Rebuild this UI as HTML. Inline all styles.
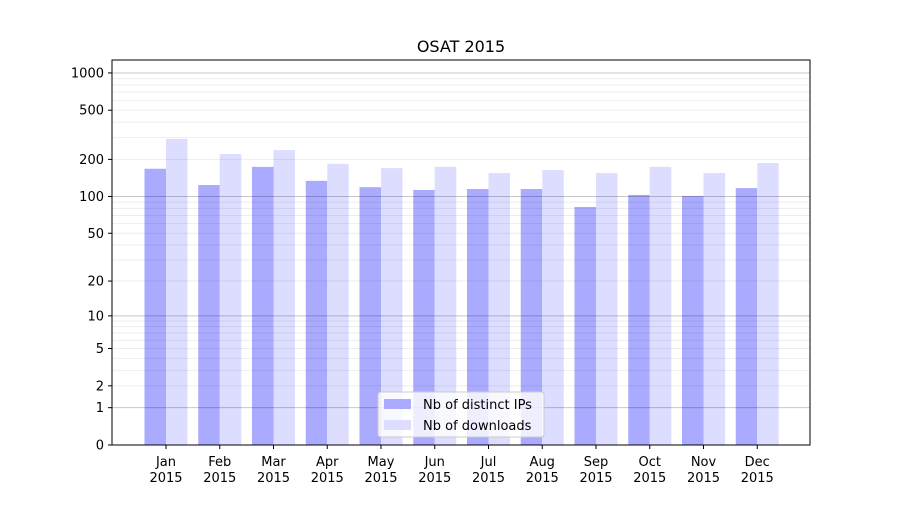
<!DOCTYPE html>
<html><head><meta charset="utf-8"><style>body{margin:0;background:#fff}svg{font-family:"DejaVu Sans","Liberation Sans",sans-serif}</style></head>
<body>
<svg id="chart" width="900" height="500"></svg>
<script>
const months=["Jan","Feb","Mar","Apr","May","Jun","Jul","Aug","Sep","Oct","Nov","Dec"];
const ips=[168,124,174,134,119,113,115,115,82,103,101,117];
const downloads=[293,221,238,184,170,174,155,164,155,174,155,187];
const yTicks=[0,1,2,5,10,20,50,100,200,500,1000];
const majorGrid=[1,10,100,1000];
const minorGrid=[2,3,4,5,6,7,8,9,20,30,40,50,60,70,80,90,200,300,400,500,600,700,800,900];
const svg=document.getElementById('chart');
const NS="http://www.w3.org/2000/svg";
function mk(t,a,p){const e=document.createElementNS(NS,t);for(const k in a)e.setAttribute(k,a[k]);(p||svg).appendChild(e);return e;}
const L=112,R=810,T=60,B=445;
const y=v=>B-Math.log10(v+1)*124;
const step=53.75, c0=166, bw=21.5;
const x=i=>c0+i*step;
const bars=mk('g',{});


months.forEach((m,i)=>{
 const a=mk('rect',{x:x(i)-bw,y:y(ips[i]),width:bw,height:B-y(ips[i]),fill:'#aaaaff'},bars);
 
 
 const b=mk('rect',{x:x(i),y:y(downloads[i]),width:bw,height:B-y(downloads[i]),fill:'#ddddff'},bars);
 
 
});
const grid=mk('g',{});


minorGrid.forEach(v=>mk('line',{x1:L,x2:R,y1:y(v),y2:y(v),stroke:'#000','stroke-opacity':0.07,'stroke-width':1},grid));
majorGrid.forEach(v=>mk('line',{x1:L,x2:R,y1:y(v),y2:y(v),stroke:'#000','stroke-opacity':0.22,'stroke-width':1},grid));
const frame=mk('rect',{x:L,y:T,width:R-L,height:B-T,fill:'none',stroke:'#000','stroke-width':1});


yTicks.forEach(v=>{
 mk('line',{x1:L-4,x2:L,y1:y(v),y2:y(v),stroke:'#000'});
 const t=mk('text',{x:L-8,y:y(v)+4.5,'text-anchor':'end','font-size':13});
 t.textContent=v;
 
 
});
months.forEach((m,i)=>{
 mk('line',{x1:x(i),x2:x(i),y1:B,y2:B+4,stroke:'#000'});
 const t=mk('text',{x:x(i),y:B+21,'text-anchor':'middle','font-size':13});
 t.textContent=m;
 
 
 const t2=mk('text',{x:x(i),y:B+37,'text-anchor':'middle','font-size':13});
 t2.textContent='2015';
 
 
});
const title=mk('text',{x:461,y:52,'text-anchor':'middle','font-size':16});
title.textContent='OSAT 2015';


const lg=mk('g',{});


mk('rect',{x:378,y:392,width:166,height:45,rx:3,fill:'#fff','fill-opacity':0.8,stroke:'#ccc'},lg);
mk('rect',{x:384,y:399,width:27,height:10,fill:'#aaaaff'},lg);
mk('rect',{x:384,y:420,width:27,height:10,fill:'#ddddff'},lg);
const l1=mk('text',{x:423,y:409,'font-size':13},lg);l1.textContent='Nb of distinct IPs';


const l2=mk('text',{x:423,y:430,'font-size':13},lg);l2.textContent='Nb of downloads';


</script>
</body></html>
